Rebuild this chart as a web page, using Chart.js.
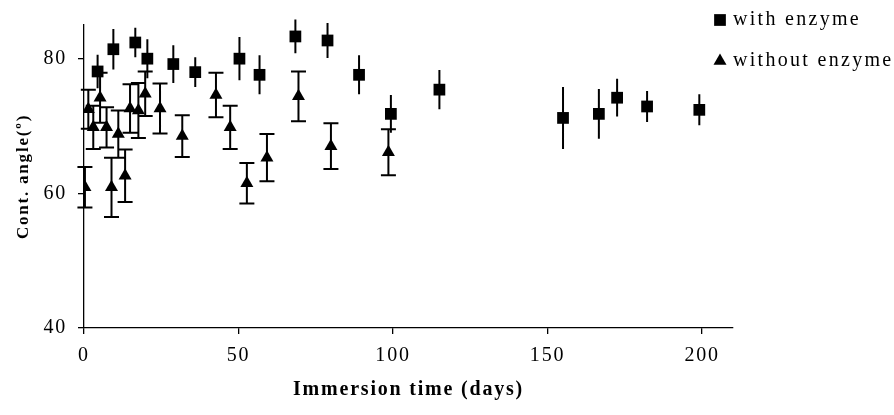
<!DOCTYPE html>
<html>
<head>
<meta charset="utf-8">
<script src="https://cdn.jsdelivr.net/npm/chart.js@4.4.1/dist/chart.umd.min.js"></script>
<style>
  html, body { margin: 0; padding: 0; background: #fff; }
</style>
</head>
<body>
<canvas id="angleChart" width="894" height="415"></canvas>
<script>
// contact angle vs immersion time, with / without enzyme

const withDays  = [4.4, 9.5, 16.6, 20.5, 28.9, 36.0, 50.3, 56.8, 68.4, 78.8, 89.0, 99.3, 115.0, 155.0, 166.6, 172.5, 182.2, 199.1];
const withAngle = [78.1, 81.4, 82.4, 80.0, 79.2, 78.0, 80.0, 77.6, 83.3, 82.7, 77.6, 71.8, 75.4, 71.2, 71.8, 74.2, 72.9, 72.4];
const withErr   = [2.5, 3.0, 2.2, 2.9, 2.8, 2.2, 3.2, 2.9, 2.5, 2.6, 2.9, 2.8, 2.9, 4.6, 3.7, 2.8, 2.3, 2.3];

const withoutDays  = [0.3, 1.4, 3.0, 5.2, 7.3, 8.9, 11.1, 13.3, 14.9, 17.6, 19.8, 24.6, 31.8, 42.7, 47.3, 52.7, 59.2, 69.4, 79.9, 98.5];
const withoutAngle = [60.9, 72.5, 69.8, 74.2, 69.8, 60.9, 68.8, 62.6, 72.6, 72.3, 74.8, 72.6, 68.5, 74.6, 69.8, 61.5, 65.3, 74.4, 67.0, 66.1];
const withoutErr   = [3.0, 2.9, 3.2, 3.7, 3.0, 4.4, 3.5, 3.9, 3.6, 4.1, 3.3, 3.7, 3.1, 3.3, 3.2, 3.0, 3.5, 3.7, 3.4, 3.4];

const xTicks = [0, 50, 100, 150, 200];
const yTicks = [40, 60, 80];

const SERIF = '"Liberation Serif", "Times New Roman", serif';

const toPoints = (xs, ys) => xs.map((x, i) => ({ x, y: ys[i] }));

// the reference text is a bit wide, so space the letters out
const spacing = {
    id: 'spacing',
    beforeUpdate(chart) { chart.ctx.letterSpacing = '1.8px'; },
    beforeDraw(chart) { chart.ctx.letterSpacing = '1.8px'; }
};

// vertical error bars, caps only where the dataset asks for them
const errorBars = {
    id: 'errorBars',
    beforeDatasetsDraw(chart) {
        const { ctx } = chart;
        const y = chart.scales.y;
        chart.data.datasets.forEach((ds, i) => {
            const meta = chart.getDatasetMeta(i);
            ctx.save();
            ctx.strokeStyle = '#000';
            ctx.lineWidth = 2;
            ctx.beginPath();
            meta.data.forEach((pt, j) => {
                const v = ds.data[j].y;
                const e = ds.errors[j];
                const top = y.getPixelForValue(v + e);
                const bot = y.getPixelForValue(v - e);
                ctx.moveTo(pt.x, top);
                ctx.lineTo(pt.x, bot);
                if (ds.capWidth) {
                    ctx.moveTo(pt.x - ds.capWidth, top);
                    ctx.lineTo(pt.x + ds.capWidth, top);
                    ctx.moveTo(pt.x - ds.capWidth, bot);
                    ctx.lineTo(pt.x + ds.capWidth, bot);
                }
            });
            ctx.stroke();
            ctx.restore();
        });
    }
};

// legend sits top right, above the end of the x axis
const sideLegend = {
    id: 'sideLegend',
    afterDraw(chart) {
        const ctx = chart.ctx;
        const rows = [20, 61];
        chart.data.datasets.forEach((ds, i) => {
            ctx.save();
            ctx.fillStyle = '#000';
            Chart.helpers.drawPoint(ctx, {
                pointStyle: ds.pointStyle,
                radius: ds.legendRadius,
                rotation: 0,
                borderWidth: 0
            }, 720, rows[i]);
            ctx.letterSpacing = '2.3px';
            ctx.font = '20px ' + SERIF;
            ctx.textBaseline = 'middle';
            ctx.textAlign = 'left';
            ctx.fillText(ds.label, 733, rows[i]);
            ctx.restore();
        });
    }
};

new Chart(document.getElementById('angleChart'), {
    type: 'scatter',
    data: {
        datasets: [
            {
                label: 'with enzyme',
                data: toPoints(withDays, withAngle),
                errors: withErr,
                capWidth: 0,
                pointStyle: 'rect',
                pointRadius: 8.3,
                legendRadius: 8.3,
                pointBackgroundColor: '#000',
                pointBorderWidth: 0
            },
            {
                label: 'without enzyme',
                data: toPoints(withoutDays, withoutAngle),
                errors: withoutErr,
                capWidth: 7.5,
                pointStyle: 'triangle',
                pointRadius: 7.5,
                legendRadius: 7.5,
                pointBackgroundColor: '#000',
                pointBorderWidth: 0
            }
        ]
    },
    options: {
        responsive: false,
        animation: false,
        layout: { padding: { left: 0, top: 25, right: 161, bottom: 0 } },
        plugins: {
            legend: { display: false },
            tooltip: { enabled: false }
        },
        scales: {
            x: {
                type: 'linear',
                min: 0,
                max: 210,
                afterBuildTicks: s => { s.ticks = xTicks.map(v => ({ value: v })); },
                afterFit: s => { s.height = 87; },
                border: { color: '#000', width: 1.3 },
                grid: { drawOnChartArea: false, color: '#000', tickLength: 6, lineWidth: 1.3 },
                ticks: { color: '#000', padding: 10, maxRotation: 0, font: { family: SERIF, size: 20 } },
                title: {
                    display: true,
                    text: 'Immersion time (days)',
                    color: '#000',
                    padding: { top: 0, bottom: 13 },
                    font: { family: SERIF, size: 20, weight: 'bold' }
                }
            },
            y: {
                min: 40,
                max: 85,
                afterBuildTicks: s => { s.ticks = yTicks.map(v => ({ value: v })); },
                afterFit: s => { s.width = 84; },
                border: { color: '#000', width: 1.3 },
                grid: { drawOnChartArea: false, color: '#000', tickLength: 6, lineWidth: 1.3 },
                ticks: { color: '#000', padding: 11, font: { family: SERIF, size: 20 } },
                title: {
                    display: true,
                    text: 'Cont. angle(º)',
                    color: '#000',
                    padding: { top: 13, bottom: 0 },
                    font: { family: SERIF, size: 17, weight: 'bold' }
                }
            }
        }
    },
    plugins: [spacing, errorBars, sideLegend]
});
</script>
</body>
</html>
